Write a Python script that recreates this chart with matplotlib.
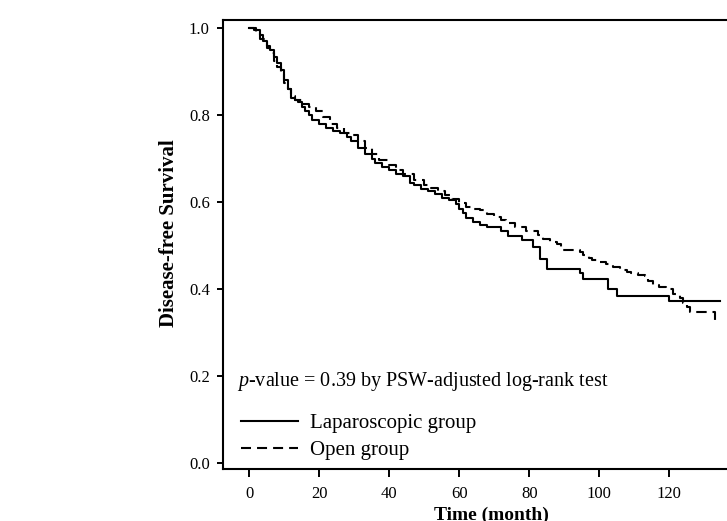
import matplotlib
matplotlib.use("Agg")
import matplotlib.pyplot as plt
from matplotlib.lines import Line2D

plt.rcParams['font.family'] = ['Liberation Serif', 'DejaVu Serif']
plt.rcParams['mathtext.fontset'] = 'custom'
plt.rcParams['mathtext.it'] = 'Liberation Serif:italic'
plt.rcParams['mathtext.rm'] = 'Liberation Serif'

# Laparoscopic group (solid) KM steps
lap_time = [0, 1.5, 3, 4, 5, 6, 7, 8, 9, 10, 11, 12, 13, 14, 15, 16, 17, 18, 20, 22,
            24, 26, 28, 29, 31, 33, 35, 36, 38, 40, 42, 44, 46, 47, 49, 51, 53, 55,
            57, 59, 60, 61, 62, 64, 66, 68, 72, 74, 78, 81, 83, 85, 94.5, 95.5,
            102.5, 105, 120, 134.5]
lap_surv = [1.0, 0.995, 0.985, 0.97, 0.96, 0.95, 0.935, 0.92, 0.905, 0.88, 0.86, 0.84,
            0.835, 0.83, 0.82, 0.81, 0.80, 0.79, 0.78, 0.77, 0.765, 0.76, 0.75, 0.74,
            0.725, 0.71, 0.70, 0.69, 0.68, 0.675, 0.665, 0.66, 0.645, 0.64, 0.63,
            0.625, 0.62, 0.61, 0.605, 0.595, 0.585, 0.575, 0.565, 0.555, 0.547, 0.543,
            0.533, 0.522, 0.514, 0.497, 0.47, 0.447, 0.437, 0.424, 0.40, 0.385, 0.372,
            0.372]

# Open group (dashed) KM steps
open_time = [0, 2, 3, 5, 6, 7, 8, 9, 10, 11, 12, 13, 15, 17, 19, 21, 23, 25, 27, 29,
             31, 33, 35, 37, 40, 42, 44, 47, 50, 52, 54, 56, 58, 60, 62, 64, 66, 68,
             70, 72, 73.5, 76, 79, 82.5, 84, 86, 88, 89, 94.5, 95.5, 97, 98, 100, 102,
             104, 106, 108, 109, 111, 113, 114, 115.5, 117, 119, 121, 123, 124, 125,
             126, 133, 133.5]
open_surv = [1.0, 0.99, 0.975, 0.955, 0.943, 0.925, 0.91, 0.895, 0.875, 0.86, 0.845,
             0.835, 0.827, 0.82, 0.81, 0.795, 0.78, 0.77, 0.76, 0.755, 0.74, 0.725,
             0.71, 0.697, 0.685, 0.674, 0.665, 0.651, 0.64, 0.632, 0.625, 0.617, 0.608,
             0.598, 0.59, 0.585, 0.582, 0.573, 0.566, 0.56, 0.552, 0.543, 0.534, 0.525,
             0.516, 0.509, 0.505, 0.49, 0.485, 0.479, 0.472, 0.467, 0.462, 0.458,
             0.452, 0.445, 0.44, 0.437, 0.433, 0.43, 0.42, 0.41, 0.405, 0.40, 0.39,
             0.38, 0.368, 0.36, 0.348, 0.322, 0.322]

x_ticks = [0, 20, 40, 60, 80, 100, 120]
y_ticks = [0.0, 0.2, 0.4, 0.6, 0.8, 1.0]
y_tick_labels = ["0.0", "0.2", "0.4", "0.6", "0.8", "1.0"]
series_labels = ["Laparoscopic group", "Open group"]
annot = r"$p$-value = 0.39 by PSW-adjusted log-rank test"

fig = plt.figure(figsize=(7.27, 5.21), dpi=100)
ax = fig.add_axes([0.3067, 0.0998, 0.70, 0.8618])

lw = 1.5
dash = (0, (5, 2.8))
ax.step(lap_time, lap_surv, where='post', color='black', lw=lw, label=series_labels[0])
ax.step(open_time, open_surv, where='post', color='black', lw=lw, linestyle=dash,
        label=series_labels[1])

ax.set_xlim(-7.5, 137.9)
ax.set_ylim(-0.0131, 1.019)
ax.set_xticks(x_ticks)
ax.set_yticks(y_ticks)
ax.set_yticklabels(y_tick_labels)
ax.tick_params(axis='both', direction='out', width=1.4, colors='black', labelsize=12)
ax.tick_params(axis='x', length=5.5, pad=7)
ax.tick_params(axis='y', length=4.5, pad=5)
for s in ['left', 'bottom', 'top']:
    ax.spines[s].set_linewidth(1.5)
ax.spines['right'].set_visible(False)

ax.set_ylabel("Disease-free Survival", fontsize=15, fontweight='bold')
ax.yaxis.set_label_coords(-0.0864, 0.5256)
ax.set_xlabel("Time (month)", fontsize=14, fontweight='bold')
ax.xaxis.set_label_coords(0.5275, -0.083)
ax.xaxis.label.set_verticalalignment('top')

ax.text(0.027, 0.194, annot, transform=ax.transAxes, fontsize=14.5, va='center', ha='left')

handles = [Line2D([], [], color='black', lw=lw),
           Line2D([], [], color='black', lw=lw, linestyle=(0, (4.8, 2.9)))]
ax.legend(handles, series_labels, loc='lower left', bbox_to_anchor=(0.036, 0.0205),
          frameon=False, fontsize=15, handlelength=2.72, handletextpad=0.56,
          labelspacing=0.34, borderaxespad=0, borderpad=0)

fig.savefig("out.png", dpi=100)
